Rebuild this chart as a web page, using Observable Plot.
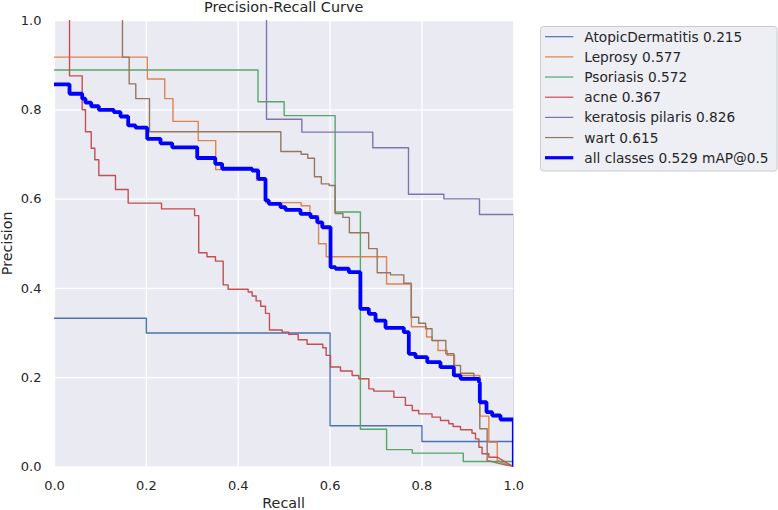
<!DOCTYPE html>
<html>
<head>
<meta charset="utf-8">
<script src="https://cdn.jsdelivr.net/npm/d3@7"></script>
<script src="https://cdn.jsdelivr.net/npm/@observablehq/plot@0.6"></script>
<style>
  html, body { margin: 0; padding: 0; background: #ffffff; }
  #chart { width: 778px; height: 510px; }
</style>
</head>
<body>
<div id="chart"></div>
<script>
// ---- data (recall, precision) ----
const classNames = ["AtopicDermatitis 0.215", "Leprosy 0.577", "Psoriasis 0.572", "acne 0.367", "keratosis pilaris 0.826", "wart 0.615"];
const allClassesName = "all classes 0.529 mAP@0.5";
const classColors = ["#4C72B0", "#DD8452", "#55A868", "#C44E52", "#8172B3", "#937860"];
const allClassesColor = "#0000FF";
const xTicks = [0, 0.2, 0.4, 0.6, 0.8, 1.0];
const yTicks = [0, 0.2, 0.4, 0.6, 0.8, 1.0];

const atopicDermatitis = [[0,0.333],[0.2,0.333],[0.2,0.30],[0.6,0.30],[0.6,0.0923],[0.8,0.0923],[0.8,0.0571],[1,0.0571]];

const leprosy = [[0,0.918],[0.202,0.918],[0.202,0.869],[0.240,0.869],[0.240,0.825],[0.258,0.825],[0.258,0.774],[0.313,0.774],[0.313,0.731],[0.351,0.731],[0.351,0.666],[0.44,0.666],[0.44,0.642],[0.46,0.642],[0.46,0.592],[0.537,0.592],[0.537,0.585],[0.556,0.585],[0.556,0.563],[0.575,0.563],[0.575,0.50],[0.5915,0.50],[0.5915,0.471],[0.723,0.471],[0.723,0.41],[0.777,0.41],[0.777,0.314],[0.81,0.314],[0.81,0.291],[0.822,0.291],[0.822,0.283],[0.835,0.283],[0.835,0.261],[0.855,0.261],[0.855,0.25],[0.871,0.25],[0.871,0.205],[0.926,0.205],[0.926,0.114],[0.9456,0.114],[0.9456,0.0555],[0.964,0.0555],[0.964,0.0146],[1,0]];

const psoriasis = [[0,0.889],[0.443,0.889],[0.443,0.818],[0.50,0.818],[0.50,0.787],[0.611,0.787],[0.611,0.571],[0.666,0.571],[0.666,0.0847],[0.723,0.0847],[0.723,0.039],[0.779,0.039],[0.779,0.031],[0.89,0.031],[0.89,0.0123],[1,0.0123]];

const acne = [[0.0327,1],[0.0327,0.876],[0.0603,0.876],[0.0603,0.80],[0.0675,0.80],[0.0675,0.751],[0.08,0.751],[0.08,0.714],[0.0878,0.714],[0.0878,0.688],[0.0965,0.688],[0.0965,0.653],[0.1328,0.653],[0.1328,0.6215],[0.1604,0.6215],[0.1604,0.591],[0.233,0.591],[0.233,0.578],[0.305,0.578],[0.305,0.563],[0.314,0.563],[0.314,0.48],[0.332,0.48],[0.332,0.471],[0.3505,0.471],[0.3505,0.461],[0.3673,0.461],[0.3673,0.408],[0.378,0.408],[0.378,0.398],[0.4217,0.398],[0.4217,0.392],[0.4304,0.392],[0.4304,0.383],[0.439,0.383],[0.439,0.372],[0.449,0.372],[0.449,0.36],[0.4594,0.36],[0.4594,0.344],[0.468,0.344],[0.468,0.307],[0.4957,0.307],[0.4957,0.302],[0.51,0.302],[0.51,0.297],[0.5306,0.297],[0.5306,0.285],[0.55,0.285],[0.55,0.275],[0.5842,0.275],[0.5842,0.267],[0.5915,0.267],[0.5915,0.25],[0.601,0.25],[0.601,0.224],[0.6227,0.224],[0.6227,0.215],[0.648,0.215],[0.648,0.205],[0.6626,0.205],[0.6626,0.1975],[0.6844,0.1975],[0.6844,0.175],[0.695,0.175],[0.695,0.17],[0.7388,0.17],[0.7388,0.156],[0.764,0.156],[0.764,0.138],[0.779,0.138],[0.779,0.1265],[0.793,0.1265],[0.793,0.119],[0.822,0.119],[0.822,0.1116],[0.8404,0.1116],[0.8404,0.104],[0.8585,0.104],[0.8585,0.0967],[0.868,0.0967],[0.868,0.0907],[0.884,0.0907],[0.884,0.0833],[0.909,0.0833],[0.909,0.0757],[0.9166,0.0757],[0.9166,0.063],[0.924,0.063],[0.924,0.0444],[0.931,0.0444],[0.931,0.0296],[0.9456,0.0296],[0.9456,0.022],[0.9638,0.022],[1,0]];

const keratosisPilaris = [[0.4616,1],[0.4616,0.779],[0.5385,0.779],[0.5385,0.75],[0.693,0.75],[0.693,0.715],[0.7707,0.715],[0.7707,0.611],[0.8477,0.611],[0.8477,0.6006],[0.9253,0.6006],[0.9253,0.5655],[1,0.5655],[1,0]];

const wart = [[0.148,1],[0.148,0.918],[0.1626,0.918],[0.1626,0.858],[0.177,0.858],[0.177,0.825],[0.2068,0.825],[0.2068,0.751],[0.4928,0.751],[0.4928,0.7066],[0.537,0.7066],[0.537,0.7006],[0.5515,0.7006],[0.5515,0.6916],[0.566,0.6916],[0.566,0.65],[0.581,0.65],[0.581,0.634],[0.598,0.634],[0.598,0.6305],[0.611,0.6305],[0.611,0.5677],[0.628,0.5677],[0.628,0.559],[0.642,0.559],[0.642,0.5245],[0.684,0.5245],[0.684,0.489],[0.7026,0.489],[0.7026,0.435],[0.7315,0.435],[0.7315,0.4304],[0.7605,0.4304],[0.7605,0.4117],[0.7766,0.4117],[0.7766,0.3355],[0.793,0.3355],[0.793,0.322],[0.808,0.322],[0.808,0.3095],[0.822,0.3095],[0.822,0.2833],[0.852,0.2833],[0.852,0.2535],[0.8694,0.2535],[0.8694,0.2273],[0.884,0.2273],[0.884,0.21],[0.913,0.21],[0.913,0.1997],[0.926,0.1997],[0.926,0.0855],[0.942,0.0855],[0.942,0.0146],[1,0]];

const allClasses = [[0,0.857],[0.0327,0.857],[0.0327,0.836],[0.0603,0.836],[0.0603,0.825],[0.0675,0.825],[0.0675,0.816],[0.08,0.816],[0.08,0.808],[0.0965,0.808],[0.0965,0.80],[0.129,0.80],[0.129,0.795],[0.1437,0.795],[0.1437,0.785],[0.1604,0.785],[0.1604,0.765],[0.1764,0.765],[0.1764,0.76],[0.2018,0.76],[0.2018,0.735],[0.2308,0.735],[0.2308,0.725],[0.2562,0.725],[0.2562,0.716],[0.3107,0.716],[0.3107,0.692],[0.35,0.692],[0.35,0.679],[0.365,0.679],[0.365,0.668],[0.4304,0.668],[0.4304,0.664],[0.4435,0.664],[0.4435,0.6455],[0.4594,0.6455],[0.4594,0.597],[0.4666,0.597],[0.4666,0.5895],[0.492,0.5895],[0.492,0.582],[0.503,0.582],[0.503,0.576],[0.5356,0.576],[0.5356,0.567],[0.5574,0.567],[0.5574,0.5595],[0.572,0.5595],[0.572,0.548],[0.583,0.548],[0.583,0.537],[0.601,0.537],[0.601,0.4475],[0.6118,0.4475],[0.6118,0.444],[0.6408,0.444],[0.6408,0.4363],[0.666,0.4363],[0.666,0.3543],[0.6844,0.3543],[0.6844,0.343],[0.699,0.343],[0.699,0.328],[0.7207,0.328],[0.7207,0.3117],[0.7605,0.3117],[0.7605,0.302],[0.7714,0.302],[0.7714,0.2535],[0.786,0.2535],[0.786,0.246],[0.8115,0.246],[0.8115,0.2347],[0.8404,0.2347],[0.8404,0.2235],[0.8694,0.2235],[0.8694,0.205],[0.884,0.205],[0.884,0.1975],[0.924,0.1975],[0.924,0.19],[0.926,0.19],[0.926,0.145],[0.9406,0.145],[0.9406,0.1227],[0.953,0.1227],[0.953,0.1153],[0.971,0.1153],[0.971,0.1064],[1,0.1064],[1,0]];

const classSeries = [atopicDermatitis, leprosy, psoriasis, acne, keratosisPilaris, wart];

// ---- build tables ----
const classRows = classSeries.flatMap((pts, i) => pts.map(([r, p]) => ({cls: classNames[i], r, p})));
const allRows = allClasses.map(([r, p]) => ({cls: allClassesName, r, p}));

const W = 778, H = 510;
const mL = 54, mR = 264.7, mT = 20, mB = 43.5;
const font = "'DejaVu Sans', 'Liberation Sans', sans-serif";
const ink = "#262626";

const svg = Plot.plot({
  width: W,
  height: H,
  marginLeft: mL,
  marginRight: mR,
  marginTop: mT,
  marginBottom: mB,
  style: {fontFamily: font, fontSize: "13px", color: ink, background: "#ffffff"},
  x: {domain: [0, 1]},
  y: {domain: [0, 1]},
  color: {domain: classNames, range: classColors},
  marks: [
    Plot.frame({fill: "#EAEAF2", stroke: null}),
    Plot.gridX(xTicks, {stroke: "#ffffff", strokeOpacity: 1, strokeWidth: 1.3}),
    Plot.gridY(yTicks, {stroke: "#ffffff", strokeOpacity: 1, strokeWidth: 1.3}),
    Plot.axisX({ticks: xTicks, tickSize: 0, tickPadding: 13.5, tickFormat: d3.format(".1f"), label: null, fill: ink}),
    Plot.axisY({ticks: yTicks, tickSize: 0, tickPadding: 13, tickFormat: d3.format(".1f"), label: null, fill: ink}),
    Plot.line(classRows, {x: "r", y: "p", z: "cls", stroke: "cls", strokeWidth: 1.4, curve: "linear", clip: true}),
    Plot.line(allRows, {x: "r", y: "p", stroke: allClassesColor, strokeWidth: 3.8, strokeLinejoin: "miter", curve: "linear", clip: true})
  ]
});

// ---- titles and legend appended to the same SVG ----
const s = d3.select(svg);
const plotCx = (mL + (W - mR)) / 2;
const plotCy = (mT + (H - mB)) / 2;

s.append("text").attr("x", plotCx).attr("y", 12).attr("text-anchor", "middle")
  .attr("font-family", font).attr("font-size", 14.4).attr("fill", ink).text("Precision-Recall Curve");
s.append("text").attr("x", plotCx).attr("y", 507.5).attr("text-anchor", "middle")
  .attr("font-family", font).attr("font-size", 14.3).attr("fill", ink).text("Recall");
s.append("text").attr("transform", `translate(12.3,${plotCy}) rotate(-90)`).attr("text-anchor", "middle")
  .attr("font-family", font).attr("font-size", 14.3).attr("fill", ink).text("Precision");

const legend = s.append("g").attr("text-anchor", "start");
legend.append("rect").attr("x", 540.5).attr("y", 26.5).attr("width", 236.5).attr("height", 144.5)
  .attr("rx", 3).attr("fill", "#EAEAF2").attr("fill-opacity", 0.8).attr("stroke", "#cccccc").attr("stroke-width", 1);
const legendNames = [...classNames, allClassesName];
const legendColors = [...classColors, allClassesColor];
legendNames.forEach((name, i) => {
  const cy = 36.7 + i * 20.17;
  legend.append("line").attr("x1", 545).attr("x2", 573.3).attr("y1", cy).attr("y2", cy)
    .attr("stroke", legendColors[i]).attr("stroke-width", i === 6 ? 3.2 : 1.2);
  legend.append("text").attr("x", 584.3).attr("y", cy + 5).attr("text-anchor", "start").attr("font-family", font)
    .attr("font-size", 13.7).attr("fill", ink).text(name);
});

document.getElementById("chart").appendChild(svg);
</script>
</body>
</html>
